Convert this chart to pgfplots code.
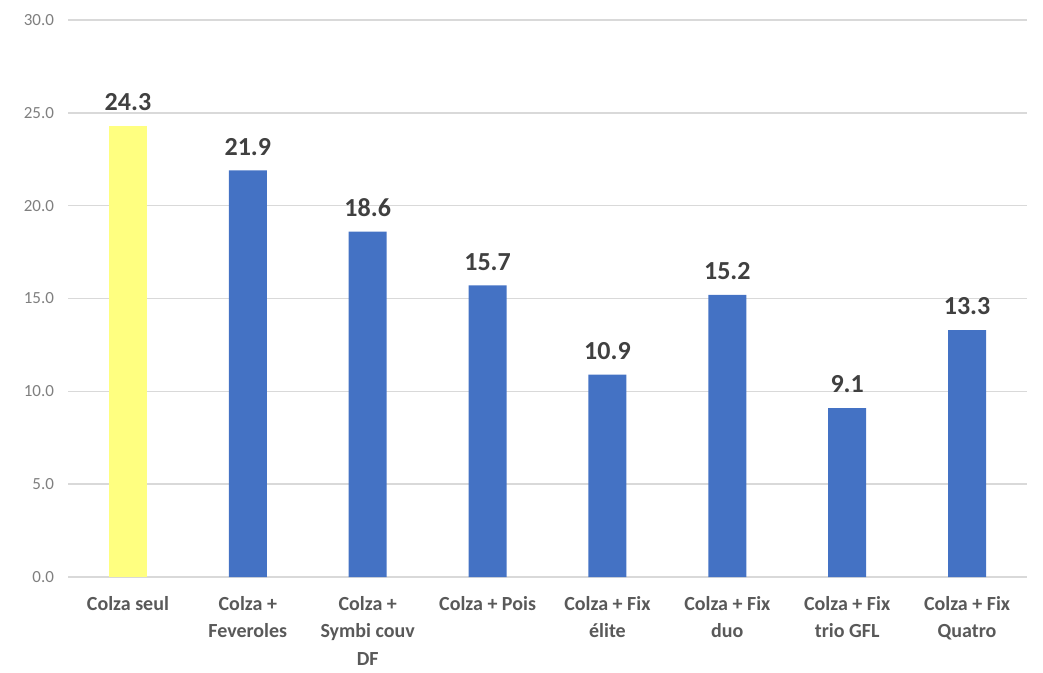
\documentclass[border=0pt]{standalone}
\usepackage{pgfplots}
\pgfplotsset{compat=1.18}
\usepackage{fontspec}
\setmainfont{Carlito}
\definecolor{barblue}{HTML}{4472C4}
\definecolor{baryellow}{HTML}{FFFF80}
\definecolor{gridgray}{HTML}{D9D9D9}
\definecolor{ticktext}{HTML}{7F7F7F}
\definecolor{cattext}{HTML}{595959}
\definecolor{valtext}{HTML}{404040}
\begin{document}
\begin{tikzpicture}
\begin{axis}[
  scale only axis, width=479.5pt, height=278.5pt,
  xmin=-0.5, xmax=7.5, ymin=0, ymax=30,
  ytick={0,5,...,30},
  xtick={0,...,7},
  xticklabels={Colza seul, {Colza +\\Feveroles}, {Colza +\\Symbi couv\\DF}, Colza + Pois, {Colza + Fix\\élite}, {Colza + Fix\\duo}, {Colza + Fix\\trio GFL}, {Colza + Fix\\Quatro}},
  ymajorgrids, grid style={gridgray, line width=0.7pt},
  axis line style={draw=none},
  major tick length=0pt,
  x tick label style={font=\bfseries\fontsize{10}{13.75}\selectfont, text=cattext, align=center, anchor=north, yshift=-6pt},
  y tick label style={font=\fontsize{8.5}{10}\selectfont, text=ticktext, xshift=-3.5pt,
     /pgf/number format/.cd, fixed, fixed zerofill, precision=1, assume math mode=true},
  ybar, bar width=19pt, bar shift=0pt,
  nodes near coords={\pgfmathprintnumber[fixed,fixed zerofill,precision=1,assume math mode=true]{\pgfplotspointmeta}},
  every node near coord/.append style={font=\bfseries\fontsize{13}{15}\selectfont, text=valtext, yshift=4pt},
  clip=false,
]
\addplot[fill=baryellow, draw=none] coordinates {(0,24.3)};
\addplot[fill=barblue, draw=none] coordinates {(1,21.9) (2,18.6) (3,15.7) (4,10.9) (5,15.2) (6,9.1) (7,13.3)};
\coordinate (ll) at (rel axis cs:0,0);
\coordinate (ur) at (rel axis cs:1,1);
\end{axis}
\pgfresetboundingbox
\useasboundingbox ([shift={(-34pt,-47.5pt)}]ll) rectangle ([shift={(8pt,10pt)}]ur);
\end{tikzpicture}
\end{document}
